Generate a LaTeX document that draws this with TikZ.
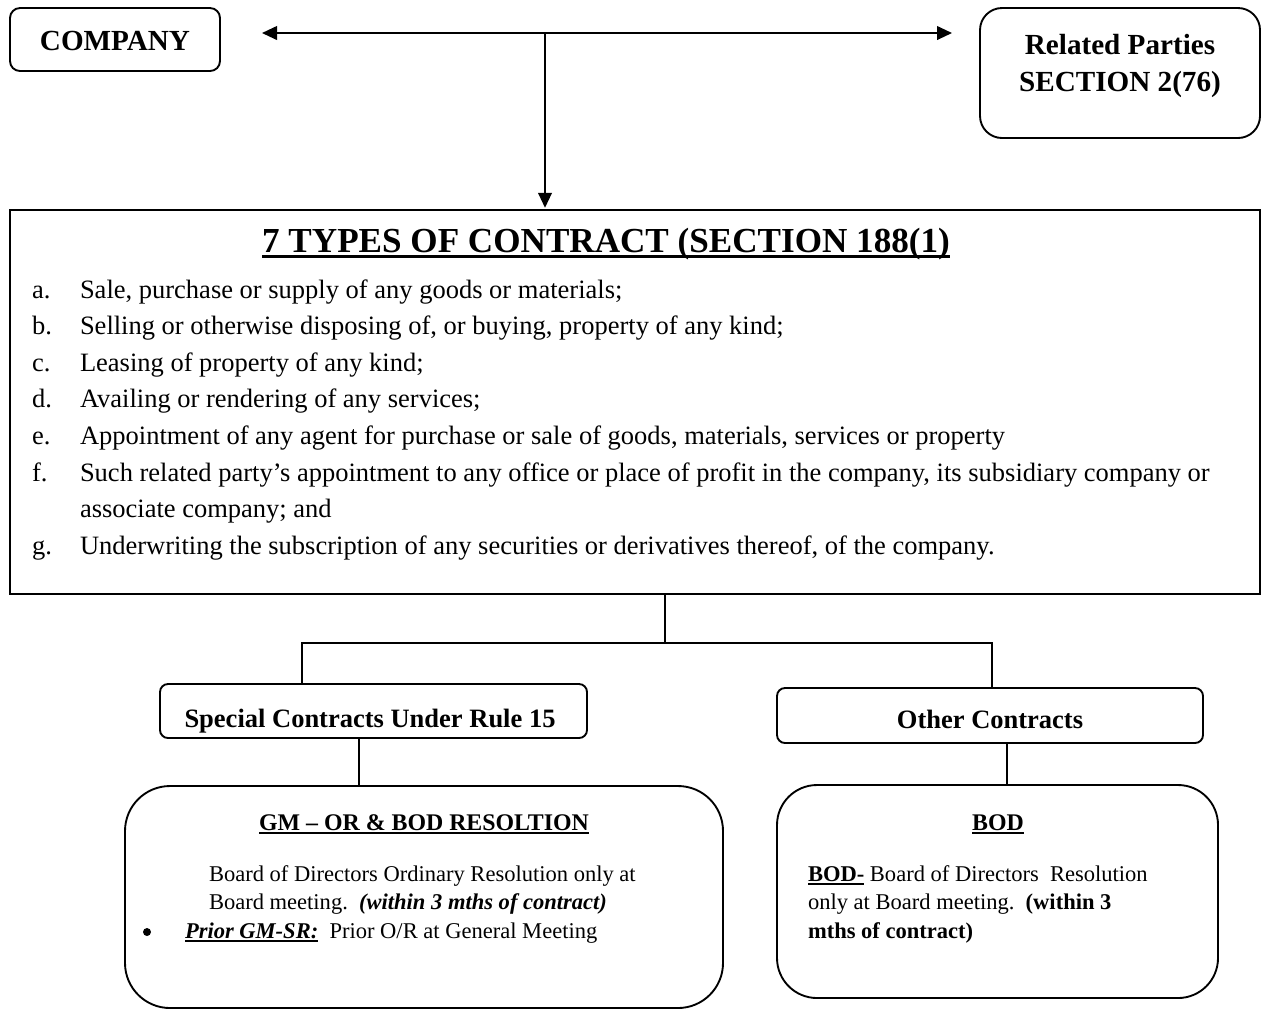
\documentclass[tikz,border=0pt]{standalone}
\usepackage{fontspec}
\setmainfont{Liberation Serif}
\usetikzlibrary{arrows.meta}
% one drawing unit, used for sizes given in the same units as coordinates
\def\pxs{0.4528pt}
% underline with a chosen gap below the baseline and a chosen thickness
\newcommand\ulx[3]{\vtop{\hbox{\raisebox{0pt}[\height][0pt]{#3}}\kern#1\hrule height #2}}
\newcommand\fsz[1]{\fontsize{#1pt}{#1pt}\selectfont}
\begin{document}
\begin{tikzpicture}[x=0.4528pt,y=-0.4528pt,
  every node/.style={inner sep=0pt,outer sep=0pt},
  box/.style={draw,line width=0.85pt},
  conn/.style={line width=0.85pt},
  tip/.style={-{Triangle[length=6.8pt,width=6.2pt]}},
  txt/.style={anchor=base west},
  ctxt/.style={anchor=base},
]
\useasboundingbox (0,0) rectangle (1261,1011);

% ---------- top row ----------
\node[box,rounded corners=10*\pxs,minimum width=210*\pxs,minimum height=63*\pxs] (company) at (115,39.5) {};
\node[ctxt] (companyT) at (115,50) {\fsz{13.2}\bfseries COMPANY};

\node[box,rounded corners=22*\pxs,minimum width=280*\pxs,minimum height=130*\pxs] (related) at (1120,73) {};
\node[ctxt] (relatedA) at (1120,54) {\fsz{13.2}\bfseries Related Parties};
\node[ctxt] (relatedB) at (1120,91) {\fsz{13.2}\bfseries SECTION 2(76)};

% ---------- the seven contract types ----------
\node[draw,line width=1.1pt,minimum width=1250*\pxs,minimum height=384*\pxs] (types) at (635,402) {};
\node[ctxt] (head) at (606,252) {\fsz{15.9}\bfseries\ulx{1.2pt}{1.3pt}{7 TYPES OF CONTRACT (SECTION 188(1)}};

\begin{scope}[every node/.append style={font=\fsz{12}}]
\node[txt] (la) at (32,298) {a.};
\node[txt] (ta) at (80,298) {Sale, purchase or supply of any goods or materials;};
\node[txt] (lb) at (32,334.6) {b.};
\node[txt] (tb) at (80,334.6) {Selling or otherwise disposing of, or buying, property of any kind;};
\node[txt] (lc) at (32,371.2) {c.};
\node[txt] (tc) at (80,371.2) {Leasing of property of any kind;};
\node[txt] (ld) at (32,407.8) {d.};
\node[txt] (td) at (80,407.8) {Availing or rendering of any services;};
\node[txt] (le) at (32,444.4) {e.};
\node[txt] (te) at (80,444.4) {Appointment of any agent for purchase or sale of goods, materials, services or property};
\node[txt] (lf) at (32,481) {f.};
\node[txt] (tf) at (80,481) {Such related party’s appointment to any office or place of profit in the company, its subsidiary company or};
\node[txt] (tf2) at (80,517.6) {associate company; and};
\node[txt] (lg) at (32,554.2) {g.};
\node[txt] (tg) at (80,554.2) {Underwriting the subscription of any securities or derivatives thereof, of the company.};
\end{scope}

% ---------- second level ----------
\node[box,rounded corners=8*\pxs,minimum width=427*\pxs,minimum height=54*\pxs] (special) at (373.5,711) {};
\node[ctxt] (specialT) at (370,727) {\fsz{12}\bfseries Special Contracts Under Rule 15};

\node[box,rounded corners=8*\pxs,minimum width=426*\pxs,minimum height=55*\pxs] (other) at (990,715.5) {};
\node[ctxt] (otherT) at (990,728) {\fsz{12}\bfseries Other Contracts};

% ---------- third level ----------
\node[box,rounded corners=45*\pxs,minimum width=598*\pxs,minimum height=222*\pxs] (gm) at (424,897) {};
\node[ctxt] (gmH) at (424,830) {\fsz{10.8}\bfseries\ulx{1pt}{0.6pt}{GM – OR \& BOD RESOLTION}};
\begin{scope}[every node/.append style={font=\fsz{10.2}}]
\node[txt] (gm1) at (209,881) {Board of Directors Ordinary Resolution only at};
\node[txt] (gm2) at (209,909) {Board meeting.\ \ \textbf{\textit{(within 3 mths of contract)}}};
\node[circle,fill,minimum size=8*\pxs] (gmb) at (147,932) {};
\node[txt] (gm3) at (185,938) {\textbf{\textit{\ulx{1pt}{0.6pt}{Prior GM-SR:}}}\ \ Prior O/R at General Meeting};
\end{scope}

\node[box,rounded corners=40*\pxs,minimum width=441*\pxs,minimum height=213*\pxs] (bod) at (997.5,891.5) {};
\node[ctxt] (bodH) at (998,830) {\fsz{10.8}\bfseries\ulx{1pt}{0.6pt}{BOD}};
\begin{scope}[every node/.append style={font=\fsz{10.2}}]
\node[txt] (bod1) at (808,881) {\textbf{\ulx{1pt}{0.6pt}{BOD-}} Board of Directors\ \ Resolution};
\node[txt] (bod2) at (808,909) {only at Board meeting.\ \ \textbf{(within 3}};
\node[txt] (bod3) at (808,938) {\textbf{mths of contract)}};
\end{scope}

% ---------- connectors ----------
\coordinate (hl) at (262,33);
\coordinate (hr) at (952,33);
\coordinate (hm) at (545,33);
\draw[conn,{Triangle[length=6.8pt,width=6.2pt]}-{Triangle[length=6.8pt,width=6.2pt]}] (hl) -- (hr);
\draw[conn,tip,shorten >=1pt] (hm) -- (types.north -| hm);

\coordinate (jn) at (665,643);
\coordinate (jl) at (302,643);
\coordinate (jr) at (992,643);
\draw[conn] (types.south -| jn) -- (jn);
\draw[conn] (special.north -| jl) -- (jl) -- (jr) -- (other.north -| jr);

\coordinate (dl) at (359,0);
\coordinate (dr) at (1007,0);
\draw[conn] (special.south -| dl) -- (gm.north -| dl);
\draw[conn] (other.south -| dr) -- (bod.north -| dr);
\end{tikzpicture}
\end{document}
